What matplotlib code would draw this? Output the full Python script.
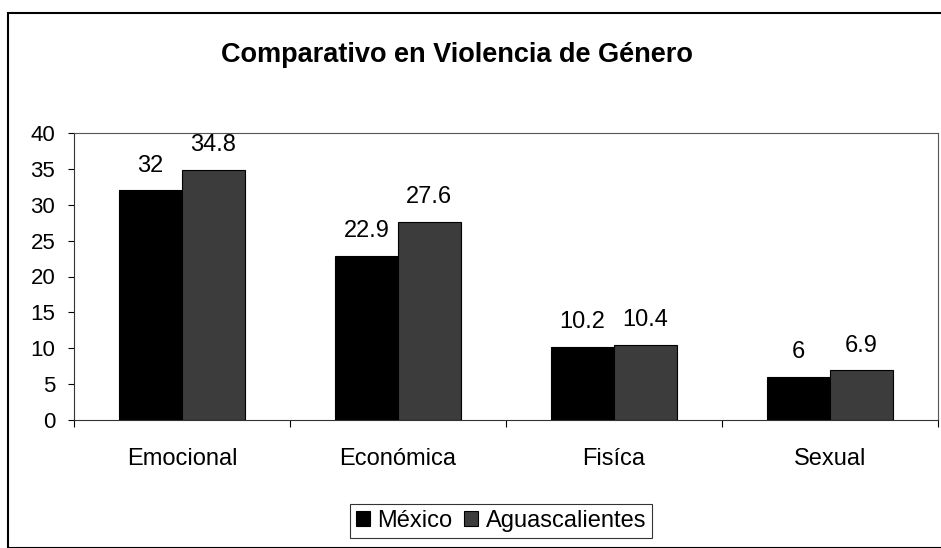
import matplotlib
matplotlib.use('Agg')
import matplotlib.pyplot as plt
import numpy as np
from matplotlib.patches import Rectangle

categorias = ["Emocional", "Económica", "Fisíca", "Sexual"]
mexico = [32, 22.9, 10.2, 6]
aguascalientes = [34.8, 27.6, 10.4, 6.9]
etiquetas_mex = ["32", "22.9", "10.2", "6"]
etiquetas_ags = ["34.8", "27.6", "10.4", "6.9"]

plt.rcParams['font.family'] = ['Liberation Sans', 'DejaVu Sans']

fig = plt.figure(figsize=(9.41, 5.48), dpi=100)
fig.patches.append(Rectangle((8 / 941, 0), 1.0, 1 - 13 / 548, transform=fig.transFigure,
                             fill=False, edgecolor='black', linewidth=1.5))

ax = fig.add_axes([74 / 941, 1 - 420 / 548, (938 - 74) / 941, (420 - 133) / 548])

x = np.arange(len(categorias))
w = 0.29
b1 = ax.bar(x - w / 2, mexico, w, color='black', edgecolor='black', linewidth=0.8, label='México')
b2 = ax.bar(x + w / 2, aguascalientes, w, color='#3c3c3c', edgecolor='black', linewidth=0.8,
            label='Aguascalientes')

for i in range(len(categorias)):
    ax.annotate(etiquetas_mex[i], (x[i] - w / 2, mexico[i]), xytext=(0, 10), textcoords='offset points',
                ha='center', va='bottom', fontsize=17)
    ax.annotate(etiquetas_ags[i], (x[i] + w / 2, aguascalientes[i]), xytext=(0, 10),
                textcoords='offset points', ha='center', va='bottom', fontsize=17)

ax.set_xlim(-0.5, len(categorias) - 0.5)
ax.set_ylim(0, 40)
ax.set_yticks(np.arange(0, 41, 5))
ax.tick_params(axis='y', labelsize=16, length=4.5, direction='out', pad=9)
ax.set_xticks(np.arange(-0.5, len(categorias), 1), minor=False)
ax.set_xticklabels([])
ax.set_xticks(x, minor=True)
ax.set_xticklabels(categorias, minor=True, fontsize=17)
ax.tick_params(axis='x', which='major', length=5, direction='out')
ax.tick_params(axis='x', which='minor', length=0, pad=20)
for s in ['top', 'right']:
    ax.spines[s].set_color('#555555')
    ax.spines[s].set_linewidth(0.8)
ax.spines['left'].set_color('#333333')
ax.spines['bottom'].set_color('#333333')

fig.text(457 / 941, 1 - 55 / 548, "Comparativo en Violencia de Género", ha='center', va='center',
         fontsize=19.5, fontweight='bold')

leg = fig.legend(handles=[b1, b2], loc='center', bbox_to_anchor=(501 / 941, 1 - 521 / 548), ncol=2,
                 fontsize=17, frameon=True, fancybox=False, edgecolor='black', handlelength=0.6,
                 handleheight=0.6, handletextpad=0.3, columnspacing=0.5, borderpad=0.25,
                 borderaxespad=0)
leg.get_frame().set_linewidth(0.8)

plt.savefig("out.png", dpi=100)
